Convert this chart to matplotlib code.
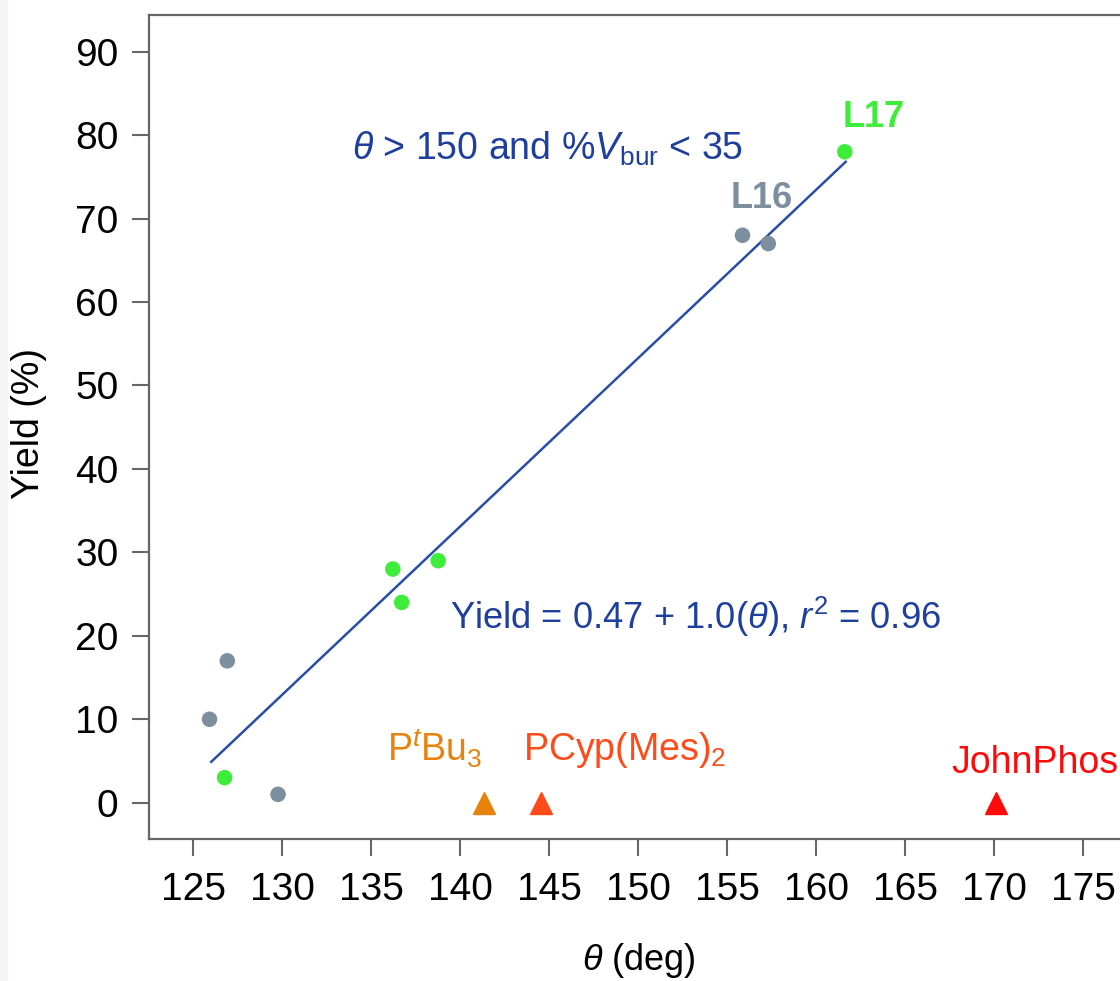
import matplotlib
matplotlib.use("Agg")
import matplotlib.pyplot as plt
from matplotlib.patches import Rectangle

# ---- data ----
gray_theta = [125.9, 126.9, 129.75, 155.85, 157.3]
gray_yield = [10, 17, 1, 68, 67]

green_theta = [126.75, 136.2, 136.7, 138.75, 161.6]
green_yield = [3, 28, 24, 29, 78]

tri_names = ["P$^{\\mathit{t}}$Bu$_3$", "PCyp(Mes)$_2$", "JohnPhos"]
tri_theta = [141.3, 144.5, 170.1]
tri_yield = [0, 0, 0]
tri_colors = ["#e8820c", "#ff4a1a", "#ff0a0a"]

fit_theta = [126.0, 161.65]
fit_yield = [4.9, 76.8]

x_ticks = list(range(125, 180, 5))
y_ticks = list(range(0, 100, 10))

GRAY = "#7d8e9e"
GREEN = "#3ded3a"
BLUE = "#2a4ea6"
TEXT_BLUE = "#1f3f9e"

plt.rcParams["font.family"] = ["Liberation Sans", "DejaVu Sans"]
plt.rcParams["mathtext.fontset"] = "custom"
plt.rcParams["mathtext.rm"] = "Liberation Sans"
plt.rcParams["mathtext.it"] = "Liberation Sans:italic"
plt.rcParams["mathtext.bf"] = "Liberation Sans:bold"

fig = plt.figure(figsize=(11.2, 9.81), dpi=100)
W, H = 1120, 981
# faint grey strip on the left edge of the original scan
fig.patches.append(Rectangle((0, 0), 7 / W, 1, transform=fig.transFigure,
                             color="#f5f5f5", zorder=0))
ax = fig.add_axes([149 / W, (H - 839) / H, 980 / W, (839 - 14.7) / H])

ax.plot(fit_theta, fit_yield, color=BLUE, lw=1.8, zorder=2)
ax.scatter(gray_theta, gray_yield, s=125, color=GRAY, edgecolors="none", zorder=3)
ax.scatter(green_theta, green_yield, s=125, color=GREEN, edgecolors="none", zorder=3)
for t, y, c in zip(tri_theta, tri_yield, tri_colors):
    ax.plot(t, y, marker="^", ms=16, color=c, mec=c, ls="none", zorder=3)

ax.set_xlim(122.5, 177.57)
ax.set_ylim(-4.35, 94.43)
ax.set_xticks(x_ticks)
ax.set_yticks(y_ticks)
ax.tick_params(axis="both", direction="out", length=12, width=1.5,
               color="#666666", labelsize=28, labelcolor="black")
ax.tick_params(axis="x", pad=12)
ax.tick_params(axis="y", pad=10)
for sp in ax.spines.values():
    sp.set_color("#666666")
    sp.set_linewidth(1.6)

# annotations
ax.text(133.9, 77.0, r"$\theta$ > 150 and %$V_{\mathrm{bur}}$ < 35",
        color=TEXT_BLUE, fontsize=27, ha="left", va="baseline")
ax.text(139.4, 20.8, r"Yield = 0.47 + 1.0($\theta$), $r^2$ = 0.96",
        color=TEXT_BLUE, fontsize=26.2, ha="left", va="baseline")
ax.text(155.2, 71.3, "L16", color=GRAY, fontsize=26, fontweight="bold",
        ha="left", va="baseline")
ax.text(161.45, 81.0, "L17", color=GREEN, fontsize=26, fontweight="bold",
        ha="left", va="baseline")
label_pos = [(135.9, 4.9), (143.5, 5.1), (167.6, 3.6)]
for name, (lx, ly), c in zip(tri_names, label_pos, tri_colors):
    ax.text(lx, ly, name, color=c, fontsize=27, ha="left", va="baseline")

fig.text(639 / W, 1 - 960 / H, r"$\theta$ (deg)", fontsize=26,
         ha="center", va="center")
fig.text(29 / W, 1 - 423 / H, "Yield (%)", fontsize=27, rotation=90,
         ha="center", va="center")

fig.savefig("out.png", dpi=100)
